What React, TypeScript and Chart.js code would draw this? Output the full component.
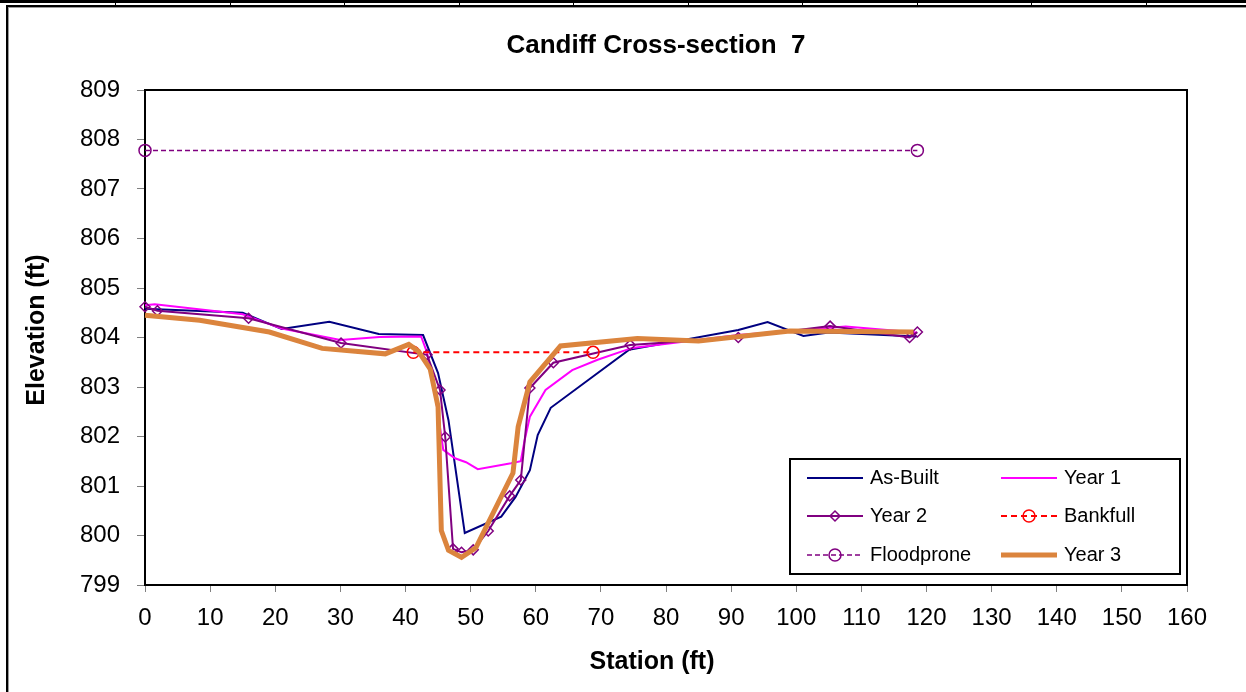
import React, { useEffect, useRef } from 'react';
import { Chart, registerables } from 'chart.js';

Chart.register(...registerables);

// ---- data ----
const xTicks = [0, 10, 20, 30, 40, 50, 60, 70, 80, 90, 100, 110, 120, 130, 140, 150, 160];
const yTicks = [799, 800, 801, 802, 803, 804, 805, 806, 807, 808, 809];

const asBuiltStation = [0, 15.0, 21.0, 28.3, 35.9, 42.7, 45.0, 46.6, 49.1, 54.7, 56.9, 59.1, 60.3, 62.3, 74.3, 91.1, 95.6, 101.1, 105.0, 118.5];
const asBuiltElev = [804.58, 804.5, 804.17, 804.32, 804.07, 804.05, 803.28, 802.33, 800.05, 800.38, 800.78, 801.32, 802.03, 802.58, 803.75, 804.15, 804.31, 804.03, 804.1, 804.02];

const year1Station = [0, 1.5, 15.0, 21.0, 30.0, 36.0, 42.4, 43.3, 44.5, 45.8, 47.6, 49.3, 51.1, 56.2, 57.7, 58.3, 59.1, 61.5, 65.6, 69.5, 74.8, 91.1, 107.6, 118.5];
const year1Elev = [804.65, 804.67, 804.47, 804.18, 803.95, 804.01, 804.02, 803.7, 802.9, 801.73, 801.56, 801.48, 801.34, 801.46, 801.5, 801.93, 802.4, 802.94, 803.34, 803.55, 803.79, 804.05, 804.22, 804.1];

const year2Station = [0, 1.9, 15.9, 30.1, 43.3, 45.3, 46.1, 47.3, 48.6, 50.4, 52.7, 56.0, 57.7, 59.1, 62.7, 74.5, 91.1, 105.2, 117.4, 118.6];
const year2Elev = [804.62, 804.54, 804.39, 803.89, 803.65, 802.94, 801.99, 799.73, 799.66, 799.71, 800.09, 800.8, 801.12, 802.98, 803.49, 803.85, 804.0, 804.23, 804.0, 804.11];

const bankfullStation = [41.2, 68.8];
const bankfullElev = [803.7, 803.7];

const floodproneStation = [0, 118.6];
const floodproneElev = [807.78, 807.78];

const year3Station = [0, 8.4, 19.1, 27.2, 36.9, 40.5, 42.0, 43.8, 45.0, 45.5, 46.6, 48.6, 50.8, 56.5, 57.3, 59.1, 63.8, 75.6, 85.0, 99.0, 118.0];
const year3Elev = [804.45, 804.35, 804.11, 803.78, 803.67, 803.86, 803.72, 803.36, 802.6, 800.1, 799.7, 799.56, 799.75, 801.26, 802.2, 803.1, 803.83, 803.98, 803.93, 804.13, 804.11];

const seriesLabels = ['As-Built', 'Year 1', 'Year 2', 'Bankfull', 'Floodprone', 'Year 3'];

const titleText = 'Candiff Cross-section  7';
const xTitle = 'Station (ft)';
const yTitle = 'Elevation (ft)';

const FONT = '"Liberation Sans", Arial, sans-serif';

function pts(xs: number[], ys: number[]) {
  return xs.map((x, i) => ({ x, y: ys[i] }));
}

export default function App() {
  const ref = useRef<HTMLCanvasElement | null>(null);

  useEffect(() => {
    const canvas = ref.current;
    if (!canvas) return;

    const framePlugin = {
      id: 'framePlugin',
      beforeDraw(chart: any) {
        const ctx = chart.ctx;
        ctx.save();
        ctx.fillStyle = '#ffffff';
        ctx.fillRect(0, 0, chart.width, chart.height);
        ctx.fillStyle = '#000000';
        ctx.fillRect(0, 0, chart.width, 3);
        for (let x = 115; x < chart.width; x += 114.5) {
          ctx.fillRect(Math.round(x), 0, 1, 6);
        }
        ctx.fillRect(6, 5, chart.width - 6, 2);
        ctx.fillRect(6, 5, 2, chart.height - 5);
        ctx.fillStyle = '#9a9a9a';
        ctx.fillRect(8, 7, chart.width - 8, 1);
        ctx.fillRect(8, 7, 1, chart.height - 7);
        ctx.restore();
      },
      beforeDatasetsDraw(chart: any) {
        const { ctx, chartArea } = chart;
        ctx.save();
        ctx.strokeStyle = '#000000';
        ctx.lineWidth = 2;
        ctx.strokeRect(chartArea.left, chartArea.top, chartArea.right - chartArea.left, chartArea.bottom - chartArea.top);
        ctx.restore();
      },
      afterDraw(chart: any) {
        const ctx = chart.ctx;
        ctx.save();
        ctx.fillStyle = '#000000';
        ctx.textAlign = 'center';
        ctx.textBaseline = 'middle';
        ctx.font = `bold 26px ${FONT}`;
        ctx.fillText(titleText, 656, 46);
        ctx.font = `bold 25px ${FONT}`;
        ctx.fillText(xTitle, 652, 662);
        ctx.save();
        ctx.translate(37, 330);
        ctx.rotate(-Math.PI / 2);
        ctx.fillText(yTitle, 0, 0);
        ctx.restore();

        // legend
        const lx = 790, ly = 459, lw = 390, lh = 115;
        ctx.fillStyle = '#ffffff';
        ctx.fillRect(lx, ly, lw, lh);
        ctx.strokeStyle = '#000000';
        ctx.lineWidth = 2;
        ctx.strokeRect(lx, ly, lw, lh);
        const cols = [807, 1001];
        const rows = [478, 516, 555];
        const ds = chart.data.datasets;
        ds.forEach((d: any, i: number) => {
          const cx = cols[i % 2];
          const cy = rows[Math.floor(i / 2)];
          ctx.save();
          ctx.strokeStyle = d.borderColor;
          ctx.lineWidth = d.borderWidth;
          ctx.setLineDash(d.borderDash || []);
          ctx.beginPath();
          ctx.moveTo(cx, cy);
          ctx.lineTo(cx + 56, cy);
          ctx.stroke();
          ctx.setLineDash([]);
          if (d.pointRadius > 0) {
            ctx.strokeStyle = d.pointBorderColor;
            ctx.lineWidth = d.pointBorderWidth;
            const mx = cx + 28;
            const r = d.pointRadius;
            ctx.beginPath();
            if (d.pointStyle === 'rectRot') {
              ctx.moveTo(mx, cy - r);
              ctx.lineTo(mx + r, cy);
              ctx.lineTo(mx, cy + r);
              ctx.lineTo(mx - r, cy);
              ctx.closePath();
            } else {
              ctx.arc(mx, cy, r, 0, Math.PI * 2);
            }
            ctx.stroke();
          }
          ctx.restore();
          ctx.fillStyle = '#000000';
          ctx.textAlign = 'left';
          ctx.textBaseline = 'middle';
          ctx.font = `20px ${FONT}`;
          ctx.fillText(d.label, cx + 63, cy);
        });
        ctx.restore();
      },
    };

    const chart = new Chart(canvas, {
      type: 'line',
      data: {
        datasets: [
          {
            label: seriesLabels[0],
            data: pts(asBuiltStation, asBuiltElev),
            borderColor: '#000080',
            borderWidth: 2,
            pointRadius: 0,
            order: 5,
          },
          {
            label: seriesLabels[1],
            data: pts(year1Station, year1Elev),
            borderColor: '#ff00ff',
            borderWidth: 2,
            pointRadius: 0,
            order: 4,
          },
          {
            label: seriesLabels[2],
            data: pts(year2Station, year2Elev),
            borderColor: '#800080',
            borderWidth: 2,
            pointRadius: 5,
            pointStyle: 'rectRot',
            pointBorderColor: '#800080',
            pointBackgroundColor: 'rgba(255,255,255,0)',
            pointBorderWidth: 1.5,
            order: 3,
          },
          {
            label: seriesLabels[3],
            data: pts(bankfullStation, bankfullElev),
            borderColor: '#ff0000',
            borderWidth: 2,
            borderDash: [6, 4],
            pointRadius: 6,
            pointStyle: 'circle',
            pointBorderColor: '#ff0000',
            pointBackgroundColor: 'rgba(255,255,255,0)',
            pointBorderWidth: 1.5,
            order: 2,
          },
          {
            label: seriesLabels[4],
            data: pts(floodproneStation, floodproneElev),
            borderColor: '#800080',
            borderWidth: 1.5,
            borderDash: [5, 3],
            pointRadius: 6,
            pointStyle: 'circle',
            pointBorderColor: '#800080',
            pointBackgroundColor: 'rgba(255,255,255,0)',
            pointBorderWidth: 1.5,
            order: 1,
          },
          {
            label: seriesLabels[5],
            data: pts(year3Station, year3Elev),
            borderColor: '#db843d',
            borderWidth: 5,
            pointRadius: 0,
            order: 0,
          },
        ] as any,
      },
      options: {
        animation: false,
        responsive: false,
        devicePixelRatio: 1,
        clip: false as any,
        elements: { line: { tension: 0 } },
        layout: { padding: { top: 90, left: 0, right: 59, bottom: 0 } },
        plugins: {
          legend: { display: false },
          title: { display: false },
          tooltip: { enabled: false },
        },
        scales: {
          x: {
            type: 'linear',
            min: xTicks[0],
            max: xTicks[xTicks.length - 1],
            afterFit: (s: any) => { s.height = 107; },
            afterBuildTicks: (s: any) => { s.ticks = xTicks.map((v) => ({ value: v })); },
            grid: { display: true, drawOnChartArea: false, drawTicks: true, tickLength: 7, color: '#808080', lineWidth: 1 },
            border: { display: false },
            ticks: {
              font: { family: FONT, size: 24 },
              color: '#000000',
              padding: 12,
              maxRotation: 0,
              autoSkip: false,
            },
          },
          y: {
            type: 'linear',
            min: yTicks[0],
            max: yTicks[yTicks.length - 1],
            afterFit: (s: any) => { s.width = 145; },
            afterBuildTicks: (s: any) => { s.ticks = yTicks.map((v) => ({ value: v })); },
            grid: { display: true, drawOnChartArea: false, drawTicks: true, tickLength: 8, color: '#808080', lineWidth: 1 },
            border: { display: false },
            ticks: {
              font: { family: FONT, size: 24 },
              color: '#000000',
              padding: 17,
              autoSkip: false,
            },
          },
        },
      } as any,
      plugins: [framePlugin],
    });

    return () => chart.destroy();
  }, []);

  return (
    <div style={{ position: 'absolute', left: 0, top: 0, width: 1246, height: 692 }}>
      <canvas ref={ref} width={1246} height={692} style={{ display: 'block', width: 1246, height: 692 }} />
    </div>
  );
}
